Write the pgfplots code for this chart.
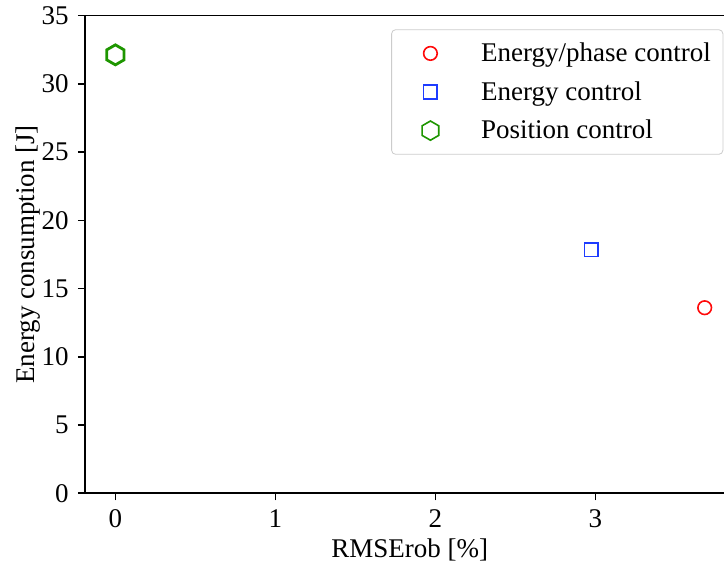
\documentclass[border=0pt]{standalone}
\usepackage{fontspec}
\setmainfont{Liberation Serif}
\usepackage{pgfplots}
\pgfplotsset{compat=1.18}
\definecolor{cred}{RGB}{255,10,10}
\definecolor{cblue}{RGB}{30,60,255}
\definecolor{cgreen}{RGB}{30,150,0}
\pgfdeclareplotmark{hexagon}{%
  \pgfpathmoveto{\pgfpointpolar{90}{\pgfplotmarksize}}%
  \pgfpathlineto{\pgfpointpolar{150}{\pgfplotmarksize}}%
  \pgfpathlineto{\pgfpointpolar{210}{\pgfplotmarksize}}%
  \pgfpathlineto{\pgfpointpolar{270}{\pgfplotmarksize}}%
  \pgfpathlineto{\pgfpointpolar{330}{\pgfplotmarksize}}%
  \pgfpathlineto{\pgfpointpolar{30}{\pgfplotmarksize}}%
  \pgfpathclose
  \pgfusepathqstroke}
\begin{document}
\fontsize{13.5}{16}\selectfont
\begin{tikzpicture}
\begin{axis}[
  scale only axis, width=324.8pt, height=238.8pt,
  xmin=-0.19, xmax=3.87, ymin=0, ymax=35,
  xtick={0,1,2,3}, ytick={0,5,10,15,20,25,30,35},
  xtick pos=bottom, ytick pos=left,
  tick align=outside, major tick length=3.5pt,
  tick style={black, line width=0.8pt},
  axis line style={line width=0.8pt},
  /pgf/number format/assume math mode=true,
  xlabel={RMSErob [\%]}, ylabel={Energy consumption [J]},
  xlabel style={at={(axis description cs:0.5,-0.134)}, anchor=base},
  ylabel style={at={(axis description cs:-0.0785,0.5)}, anchor=base},
  legend style={at={(0.9826,0.9715)}, anchor=north east, draw=black!20,
    rounded corners=2pt, inner xsep=6pt, inner ysep=6.7pt, row sep=9pt,
    nodes={inner sep=0pt, text height=9.3pt, text depth=1pt},
    /tikz/every odd column/.append style={column sep=12pt}},
  legend cell align=left,
  legend image code/.code={\path (0pt,0pt) (26pt,0pt);\draw[mark repeat=2,mark phase=2,#1] plot coordinates {(0pt,0pt)(13pt,0pt)(26pt,0pt)};},
]
\addplot[only marks, mark=o, mark size=3.4pt, cred, line width=0.8pt] coordinates {(3.683,13.6)};
\addlegendentry{Energy/phase control}
\addplot[only marks, mark=square, mark size=3.4pt, cblue, line width=0.8pt] coordinates {(2.974,17.84)};
\addlegendentry{Energy control}
\addplot[only marks, mark=hexagon, mark size=5pt, cgreen, line width=1.4pt,
  legend image post style={line width=0.8pt, mark size=4.8pt}] coordinates {(0,32.13)};
\addlegendentry{Position control}
\end{axis}
\pgfresetboundingbox
\path[use as bounding box] ([xshift=-42.5pt,yshift=-37.35pt]current axis.south west) rectangle ([xshift=319.5pt,yshift=7.85pt]current axis.north west);
\end{tikzpicture}
\end{document}
